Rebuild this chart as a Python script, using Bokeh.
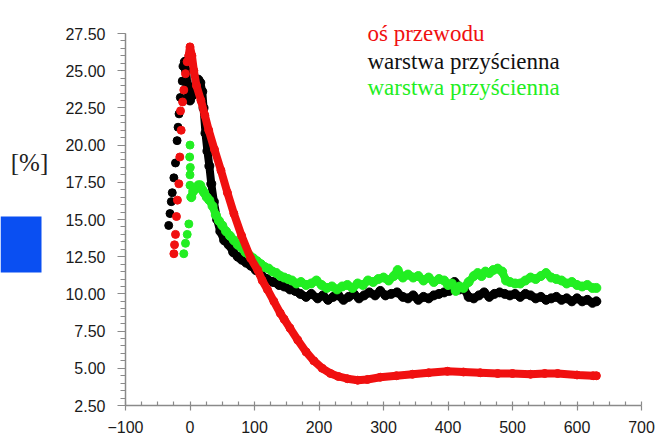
from bokeh.plotting import figure
from bokeh.models import (Range1d, SingleIntervalTicker, PrintfTickFormatter, Label,
                          BoxAnnotation, LinearAxis)
from bokeh.embed import file_html
from bokeh.resources import INLINE

# ---- data ----
red_rise_x = [-25, -24, -22.5, -21, -19.5, -17.3, -15.8, -13.7, -14.7, -11.5, -9.6, -7, -4.5]
red_rise_y = [12.7, 13.3, 14.0, 15.2, 16.3, 17.4, 19.2, 21.0, 22.3, 22.9, 23.7, 24.8, 25.6]

red_x = [-2, 0, 3, 6, 10, 17, 23, 29, 38, 48, 58, 68, 80, 94, 105, 112, 120, 130, 140, 146,
         155, 167, 180, 192, 205, 218, 230, 244, 260, 275, 295, 320, 345, 370, 399, 424, 450,
         477, 500, 528, 550, 570, 600, 625, 630]
red_y = [26.0, 26.6, 26.0, 25.0, 24.0, 23.0, 22.0, 21.0, 19.7, 18.3, 16.8, 15.4, 13.9, 12.4,
         11.6, 10.9, 10.3, 9.5, 8.7, 8.3, 7.7, 6.9, 6.1, 5.5, 5.0, 4.65, 4.45, 4.3, 4.2, 4.25,
         4.4, 4.5, 4.6, 4.7, 4.8, 4.75, 4.7, 4.65, 4.65, 4.6, 4.65, 4.65, 4.55, 4.5, 4.5]

black_rise_x = [-33, -31, -29, -27.5, -25, -22.5, -20, -18.5, -17, -15, -12]
black_rise_y = [14.6, 15.4, 16.2, 16.8, 17.8, 18.8, 20.3, 21.2, 22.1, 23.2, 24.3]

black_x = [-10, -8, -6, -4, -2, 0, 3, 6, 10, 13, 16, 19, 21, 24, 27, 30, 33, 37, 42, 47, 53,
           60, 67, 74, 80, 87, 94, 102, 110, 119, 129, 138, 146, 155, 163, 171, 180, 188, 198,
           206, 214, 222, 230, 238, 246, 254, 262, 270, 278, 287, 295, 303, 312, 321, 330, 338,
           346, 354, 362, 370, 378, 386, 394, 402, 410, 414, 418, 424, 432, 440, 448, 456, 464,
           472, 480, 488, 496, 504, 512, 520, 528, 536, 544, 552, 560, 568, 576, 584, 592, 600,
           608, 616, 624, 630]
black_y = [25.3, 25.6, 25.0, 24.0, 23.3, 23.0, 23.3, 23.9, 24.3, 24.4, 24.2, 23.6, 22.5, 20.8,
           19.6, 18.6, 17.4, 16.2, 15.0, 14.2, 13.6, 13.3, 12.8, 12.5, 12.3, 12.1, 11.9, 11.6,
           11.3, 11.0, 10.8, 10.6, 10.5, 10.3, 10.2, 10.0, 9.8, 10.0, 9.7, 9.9, 9.6, 9.8, 9.9,
           9.6, 9.8, 10.0, 9.7, 9.9, 10.1, 9.9, 10.2, 9.9, 10.0, 10.1, 9.8, 9.7, 9.9, 9.6, 9.8,
           9.7, 9.9, 10.0, 10.1, 10.2, 10.8, 10.6, 10.3, 10.4, 9.8, 9.7, 9.9, 10.1, 9.8, 10.0,
           10.1, 10.0, 9.9, 10.0, 9.8, 10.0, 9.9, 9.7, 9.8, 9.6, 9.7, 9.8, 9.6, 9.7, 9.5, 9.7,
           9.5, 9.6, 9.4, 9.5]

green_rise_x = [-9.6, -7, -4.3, -1.8, 0, 0, 0.5, -0.5, 0]
green_rise_y = [12.7, 13.4, 14.0, 14.7, 17.3, 18.0, 18.5, 19.2, 20.0]

green_x = [2, 5, 9, 13, 16, 19, 22, 26, 30, 35, 40, 45, 50, 56, 62, 68, 74, 80, 86, 92, 98, 104,
           110, 116, 122, 128, 134, 140, 146, 152, 158, 165, 172, 180, 188, 196, 204, 212, 220,
           228, 236, 244, 252, 260, 268, 276, 284, 292, 300, 308, 316, 322, 330, 338, 346, 354,
           362, 370, 378, 386, 394, 400, 406, 412, 418, 424, 432, 440, 446, 452, 458, 464, 470,
           477, 484, 490, 496, 504, 512, 520, 528, 536, 544, 552, 560, 568, 576, 584, 592, 600,
           608, 616, 624, 630]
green_y = [16.5, 16.9, 17.1, 17.3, 17.3, 17.0, 16.8, 16.5, 16.3, 15.9, 15.3, 14.9, 14.6, 14.2,
           13.9, 13.6, 13.3, 13.1, 12.8, 12.6, 12.4, 12.2, 12.0, 11.8, 11.7, 11.5, 11.4, 11.2,
           11.1, 11.0, 10.9, 10.7, 10.8, 10.6, 10.7, 10.9, 10.6, 10.4, 10.5, 10.3, 10.5, 10.6,
           10.4, 10.7, 10.6, 10.9, 10.8, 11.0, 11.1, 10.9, 11.2, 11.6, 11.1, 11.3, 11.1, 11.2,
           10.9, 11.1, 10.8, 11.0, 10.9, 10.6, 10.7, 10.2, 10.5, 10.4, 10.8, 11.2, 11.4, 11.2,
           11.5, 11.4, 11.6, 11.7, 11.5, 10.9, 10.8, 10.7, 10.7, 10.9, 11.1, 11.0, 11.2, 11.4,
           11.1, 11.0, 10.9, 10.7, 10.8, 10.6, 10.5, 10.6, 10.4, 10.4]

x_axis_min, x_axis_max = -100, 700
y_axis_min, y_axis_max = 2.5, 27.5
x_ticks_labels = {-100: "\u2212100"}
legend_texts = ["oś przewodu", "warstwa przyścienna", "warstwa przyścienna"]
legend_colors = ["#f01010", "#111111", "#22ee22"]
y_label = "[%]"

RED, BLACK, GREEN = "#f01010", "#000000", "#22ee22"

# ---- layout: the frame fills the page; axes are pinned at the data origin ----
W, H = 655, 436
AX_L, AX_R, AX_T, AX_B = 125, 641, 33, 405   # axis box in page pixels
sx = (AX_R - AX_L) / (x_axis_max - x_axis_min)
sy = (AX_B - AX_T) / (y_axis_max - y_axis_min)


def dx(px):
    return x_axis_min + (px - AX_L) / sx


def dy(py):
    return y_axis_min + (AX_B - py) / sy


p = figure(width=W, height=H, output_backend="svg", toolbar_location=None,
           x_range=Range1d(dx(0), dx(W)), y_range=Range1d(dy(H), dy(0)),
           x_axis_type=None, y_axis_type=None, min_border=0)
p.outline_line_color = None
p.background_fill_color = "white"
p.border_fill_color = "white"

xax = LinearAxis(fixed_location=y_axis_min, bounds=(x_axis_min, x_axis_max))
yax = LinearAxis(fixed_location=x_axis_min, bounds=(y_axis_min, y_axis_max))
p.add_layout(xax, "below")
p.add_layout(yax, "left")

for ax in (xax, yax):
    ax.axis_line_color = "#8a8a8a"
    ax.axis_line_width = 1.5
    ax.major_tick_line_color = "#8a8a8a"
    ax.minor_tick_line_color = "#8a8a8a"
    ax.major_tick_line_width = 1.2
    ax.minor_tick_line_width = 1.2
    ax.major_label_text_font = "Liberation Sans"
    ax.major_label_text_font_size = "16px"
    ax.major_label_text_color = "#1a1a1a"

xax.ticker = SingleIntervalTicker(interval=100, num_minor_ticks=4)
xax.major_label_overrides = x_ticks_labels
xax.major_tick_in = 0
xax.major_tick_out = 5
xax.minor_tick_in = 4
xax.minor_tick_out = 0
xax.major_label_standoff = 10

yax.ticker = SingleIntervalTicker(interval=2.5, num_minor_ticks=5)
yax.formatter = PrintfTickFormatter(format="%.2f")
yax.major_tick_in = 0
yax.major_tick_out = 8
yax.minor_tick_in = 0
yax.minor_tick_out = 5
yax.major_label_standoff = 12

# black
p.scatter(black_rise_x, black_rise_y, size=8, color=BLACK)
p.line(black_x, black_y, line_width=8, color=BLACK, line_join="round", line_cap="round")
p.scatter(black_x, black_y, size=9, color=BLACK)
# green
p.scatter(green_rise_x, green_rise_y, size=8, color=GREEN)
p.line(green_x, green_y, line_width=8, color=GREEN, line_join="round", line_cap="round")
p.scatter(green_x, green_y, size=9, color=GREEN)
# red
p.scatter(red_rise_x, red_rise_y, size=8, color=RED)
p.line(red_x, red_y, line_width=8, color=RED, line_join="round", line_cap="round")
p.scatter(red_x, red_y, size=8, color=RED)

legend_py = [33, 61, 87]
for t, c, py in zip(legend_texts, legend_colors, legend_py):
    p.add_layout(Label(x=dx(367), y=dy(py), text=t, text_color=c,
                       text_font="Liberation Serif", text_font_size="23px",
                       text_baseline="alphabetic", text_align="left"))

p.add_layout(Label(x=dx(29), y=dy(162), text=y_label, text_font="Liberation Serif",
                   text_font_size="25px", text_color="#222222",
                   text_baseline="middle", text_align="center"))

p.add_layout(BoxAnnotation(left=dx(0), right=dx(41), top=dy(216), bottom=dy(272),
                           fill_color="#0a4ff2", fill_alpha=1.0, line_color=None))

open("out.html", "w").write(file_html(p, INLINE))
